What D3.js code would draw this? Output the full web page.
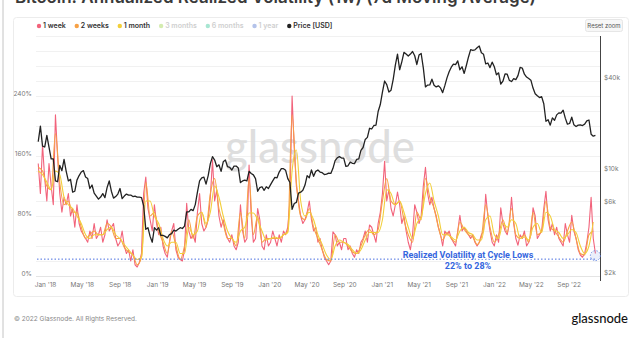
<!DOCTYPE html>
<html><head><meta charset="utf-8">
<script src="https://cdn.jsdelivr.net/npm/d3@7"></script>
<style>
html,body{margin:0;padding:0;background:#fff;}
svg{display:block;font-family:Inter, Roboto, "Noto Sans", sans-serif;}
</style></head><body>
<svg id="chart" width="640" height="338"></svg>
<script>
// ---------- DATA ----------
const weeklyStart = "2017-12-10";   // weekly series start (Sundays)
const biweeklyStart = "2017-12-10"; // 2-week sampled series start

// BTC price [USD], weekly
const price2017 = [15000,19000,14000,13800];
const price2018 = [16500,13800,11500,11500, 8200,8100,10400,9600, 11400,9500,8200,8400, 6900,7000,8300,8900,9400, 9600,8700,8500,7300, 7700,6800,6500,6200, 6400,6750,6350,7400,8200, 7000,6300,6450,6700, 7300,6250,6500,6700,6600, 6600,6450,6500,6400, 6400,6350,5600,3900, 4000,3500,3200,4000,3850];
const price2019 = [4000,3550,3550,3500, 3420,3600,3650,3850, 3800,3900,4000,3950,4100, 5100,5100,5300,5200, 5700,6900,8200,8600, 8700,7800,8900,10700,11900, 11300,10200,10500,9500, 11000,11300,10200,10100, 9700,10300,10300,10000,8000, 8200,8300,8200,9500, 9200,9000,8500,7000, 7400,7500,7100,7500,7300];
const price2020 = [7750,8200,8650,8600, 9400,9900,9900,9650, 8500,8000,5300,5800,5900, 6800,6900,7100,7700, 8900,8600,9700,8800,9500, 9700,9400,9300,9050, 9100,9250,9200,9950, 11200,11700,11900,11650,11650, 10250,10350,10950,10750, 10700,11400,11500,13100, 13700,15500,16000,18400,18200, 19200,19300,23800,26500];
const price2021 = [32000,38000,36000,32100,33000, 39000,48500,57500,45200, 51000,59000,57500,55800, 57500,59800,56000,49000, 56600,58000,46500,34700,35700, 35800,39100,35600,34700, 35300,34200,31800,35400, 39900,43800,47000,49300,48900, 51800,45200,47300,42700, 48200,55000,61500,60900,61300, 63300,65000,58700,57300, 49400,50100,46700,50800];
const price2022 = [47300,41800,43100,36300,37900, 42400,42200,38400,37700, 39400,38800,41300,46800, 46400,42200,40400,39500, 38500,34100,31300,30300,29500, 29900,26800,20500,21000, 19300,21600,20800,22600,23300, 23200,24300,21500,19600, 19800,21800,19400,18900, 19300,19400,19200,19600,20600, 20900,16800,16300,16500];

// Realized volatility 1 week [%], weekly
const vol1w2017 = [150,110,175,130];
const vol1w2018 = [100,150,120,95, 215,160,110,85, 105,95,110,80, 90,65,95,70,60, 55,50,45,60, 50,70,50,55, 65,45,55,75,60, 65,70,50,40, 45,60,40,30,35, 20,35,15,12, 18,30,110,132, 90,75,60,95,70];
const vol1w2019 = [55,65,40,30, 25,45,60,70, 35,25,22,20,35, 97,60,50,55, 45,85,110,70, 60,65,75,105,155, 100,115,80,65, 75,60,50,45, 55,40,35,45,95, 60,45,50,148, 80,45,50,90, 75,40,35,55,40];
const vol1w2020 = [45,60,50,40, 55,45,60,55, 65,100,240,170,120, 100,80,70,75, 85,100,75,60,65, 45,50,35,25, 20,15,20,59, 55,40,45,35,50, 50,35,40,30, 25,35,30,45, 50,60,45,68,65, 55,45,70,85];
const vol1w2021 = [110,153,100,115,90, 80,95,112,95, 70,80,60,45, 35,55,95,85, 70,80,120,145,110, 95,105,90,80, 65,55,40,60, 55,60,50,45,40, 60,81,60,65, 60,55,50,55,45, 40,45,55,60, 109,80,60,45];
const vol1w2022 = [40,55,45,91,70, 60,55,70,105, 70,50,41,55, 50,60,40,45, 55,91,80,50,55, 60,90,113,75, 60,70,55,65,50, 45,40,70,55, 45,81,60,50, 35,28,25,30,45, 65,105,50,30];

// Realized volatility 2 weeks [%], every 2 weeks
const vol2w = [145,140,
 120,115,190,125,95,100,85,85,65,50,55,60,55,55,70,65,50,50,38,32,28,15,25,125,80,85,
 60,45,30,60,40,22,40,75,50,80,85,65,110,130,90,70,50,50,40,85,50,130,55,80,45,50,
 50,50,50,55,60,215,125,80,75,90,65,50,35,22,20,55,45,45,40,32,30,40,55,62,55,62,
 100,130,100,95,100,75,55,45,85,75,130,105,90,65,48,58,50,45,72,62,55,52,42,52,95,65,
 45,55,75,58,90,55,50,55,45,85,55,60,100,65,60,52,45,60,72,50,30,28,55,60];

// Realized volatility 1 month [%], every 2 weeks
const vol1m = [140,135,
 125,115,140,135,105,95,90,80,70,55,50,55,55,55,62,65,55,50,42,35,28,22,25,100,100,80,
 70,50,40,45,45,30,30,65,55,60,85,70,85,120,105,80,60,50,45,60,65,84,84,75,60,48,
 50,52,50,55,58,140,168,100,80,85,75,55,42,28,22,40,48,45,42,35,30,35,48,58,58,58,
 75,115,110,95,100,85,65,50,70,78,110,124,100,80,55,55,52,48,60,65,58,55,48,48,75,80,
 55,50,70,65,75,70,50,52,48,65,70,58,85,80,62,58,50,55,62,58,40,30,40,72];

const cycleLowLevel = 22.5;
const legendLabels = ["1 week","2 weeks","1 month","3 months","6 months","1 year","Price [USD]"];
const legendColors = ["#f2637b","#f7a145","#f2cf3a","#d4ecb0","#a8e6d2","#b4c3ea","#222222"];
const legendActive = [true,true,true,false,false,false,true];
const leftTicks = [0,80,160,240];
const rightTicks = [2000,6000,10000,40000];
const rightTickLabels = ["$2k","$6k","$10k","$40k"];
const xTickStart = "2018-01-01", xTickEnd = "2022-10-01";

// ---------- BUILD ----------
const priceUSD = [].concat(price2017,price2018,price2019,price2020,price2021,price2022);
const vol1w = [].concat(vol1w2017,vol1w2018,vol1w2019,vol1w2020,vol1w2021,vol1w2022);
const wStart = new Date(weeklyStart+"T00:00:00Z");
const bStart = new Date(biweeklyStart+"T00:00:00Z");
const wk = (arr)=>arr.map((v,i)=>({d:d3.utcDay.offset(wStart,7*i),v}));
const bw = (arr)=>arr.map((v,i)=>({d:d3.utcDay.offset(bStart,14*i),v}));

const svg = d3.select("#chart");

// page elements
svg.append("line").attr("x1",3).attr("x2",3).attr("y1",0).attr("y2",338).attr("stroke","#c4c4c4").attr("stroke-width",1);
svg.append("text").attr("x",15).attr("y",3).attr("font-size",17).attr("font-weight",600).attr("fill","#3a3a3a")
  .text("Bitcoin: Annualized Realized Volatility (1w) (7d Moving Average)");
svg.append("rect").attr("x",13.5).attr("y",17.5).attr("width",615).attr("height",279).attr("rx",3)
  .attr("fill","#fff").attr("stroke","#ececec");

const x = d3.scaleUtc().domain([new Date(Date.UTC(2018,0,1)), new Date(Date.UTC(2022,0,1))]).range([45,494]);
const yL = d3.scaleLinear().domain([0,320]).range([276,36]);
const yR = d3.scaleLog().domain([10000,40000]).range([168, 168-150*Math.log10(4)]);

// gridlines
svg.append("g").selectAll("line").data(d3.range(0,321,20)).join("line")
  .attr("x1",36).attr("x2",600).attr("y1",d=>yL(d)+0.5).attr("y2",d=>yL(d)+0.5)
  .attr("stroke","#f1f1f1").attr("stroke-width",1);

// watermark
svg.append("text").attr("x",320).attr("y",163).attr("text-anchor","middle")
  .attr("font-size",46).attr("font-weight",500).attr("fill","#d9d9d9").attr("fill-opacity",0.85)
  .attr("textLength",190).attr("lengthAdjust","spacingAndGlyphs").attr("font-family","Lato, Inter, sans-serif")
  .text("glassnode");

// left axis
const gl = svg.append("g").attr("transform","translate(32,-3)")
  .call(d3.axisLeft(yL).tickValues(leftTicks).tickSize(0).tickPadding(0).tickFormat(d=>d+"%"));
gl.select(".domain").remove();
gl.selectAll("text").attr("font-size",6.5).attr("fill","#777").attr("font-family","Inter, Roboto, sans-serif");

// right axis
svg.append("line").attr("x1",600.5).attr("x2",600.5).attr("y1",36).attr("y2",281).attr("stroke","#444").attr("stroke-width",1);
const gr = svg.append("g").attr("transform","translate(604,0)")
  .call(d3.axisRight(yR).tickValues(rightTicks).tickSize(0).tickPadding(0).tickFormat((d,i)=>rightTickLabels[i]));
gr.select(".domain").remove();
gr.selectAll("text").attr("font-size",6.5).attr("fill","#777").attr("font-family","Inter, Roboto, sans-serif");

// x axis
svg.append("line").attr("x1",36).attr("x2",600).attr("y1",276.5).attr("y2",276.5).attr("stroke","#e4e4e4");
const xTicks = d3.utcMonth.every(4).range(new Date(xTickStart+"T00:00:00Z"), d3.utcDay.offset(new Date(xTickEnd+"T00:00:00Z"),1));
const gx = svg.append("g").attr("transform","translate(0,282)")
  .call(d3.axisBottom(x).tickValues(xTicks).tickSize(0).tickPadding(0).tickFormat(d3.utcFormat("%b '%y")));
gx.select(".domain").remove();
gx.selectAll("text").attr("font-size",6.5).attr("fill","#777").attr("dy","0.71em").attr("font-family","Inter, Roboto, sans-serif");

// clip
svg.append("clipPath").attr("id","plot").append("rect").attr("x",36).attr("y",30).attr("width",563).attr("height",250);
const plot = svg.append("g").attr("clip-path","url(#plot)");

const lineL = d3.line().x(d=>x(d.d)).y(d=>yL(d.v));
const lineLs = d3.line().x(d=>x(d.d)).y(d=>yL(d.v)).curve(d3.curveMonotoneX);
plot.append("path").datum(wk(vol1w)).attr("d",lineL).attr("fill","none").attr("stroke",legendColors[0]).attr("stroke-width",1.1).attr("stroke-linejoin","round");
plot.append("path").datum(bw(vol2w)).attr("d",lineLs).attr("fill","none").attr("stroke",legendColors[1]).attr("stroke-width",1.1).attr("stroke-linejoin","round");
plot.append("path").datum(bw(vol1m)).attr("d",lineLs).attr("fill","none").attr("stroke",legendColors[2]).attr("stroke-width",1.1).attr("stroke-linejoin","round");

// cycle low dotted line
plot.append("line").attr("x1",37).attr("x2",597).attr("y1",yL(cycleLowLevel)).attr("y2",yL(cycleLowLevel))
  .attr("stroke","#4a6fe0").attr("stroke-width",1).attr("stroke-dasharray","1.5,2");

// price
const lineP = d3.line().x(d=>x(d.d)).y(d=>yR(d.v));
plot.append("path").datum(wk(priceUSD)).attr("d",lineP).attr("fill","none").attr("stroke","#222").attr("stroke-width",1.3).attr("stroke-linejoin","round");

// annotation
const lastLow = wk(vol1w)[vol1w.length-1];
svg.append("circle").attr("cx",x(lastLow.d)).attr("cy",yL(cycleLowLevel)-3.5).attr("r",5)
  .attr("fill","rgba(120,150,230,0.15)").attr("stroke","#5b7fe0").attr("stroke-width",0.8).attr("stroke-dasharray","1.5,1.5");
const ann = svg.append("text").attr("text-anchor","middle").attr("font-size",9).attr("font-weight",700)
  .attr("fill","#3566de").attr("font-family","Roboto, Inter, sans-serif")
  .attr("stroke","#fff").attr("stroke-width",2).attr("paint-order","stroke");
ann.append("tspan").attr("x",468).attr("y",258).text("Realized Volatility at Cycle Lows");
ann.append("tspan").attr("x",468).attr("y",268.5).text("22% to 28%");

// legend
const lg = svg.append("g");
let lx = 39;
legendLabels.forEach((lab,i)=>{
  lg.append("circle").attr("cx",lx).attr("cy",26).attr("r",2.2).attr("fill",legendColors[i]);
  const t = lg.append("text").attr("x",lx+4).attr("y",28.4).attr("font-size",7).attr("font-weight",600)
    .attr("fill",legendActive[i]?"#333":"#cfcfcf").text(lab);
  lx += 4 + t.node().getComputedTextLength() + 11;
});

// reset zoom button
svg.append("rect").attr("x",585.5).attr("y",19.5).attr("width",37).attr("height",12).attr("rx",2).attr("fill","#f7f7f7").attr("stroke","#e6e6e6");
svg.append("text").attr("x",604).attr("y",27.8).attr("text-anchor","middle").attr("font-size",6).attr("fill","#555").text("Reset zoom");

// footer
svg.append("text").attr("x",14).attr("y",321).attr("font-size",6.5).attr("fill","#888").text("© 2022 Glassnode. All Rights Reserved.");
svg.append("text").attr("x",628).attr("y",323).attr("text-anchor","end").attr("font-size",13).attr("font-weight",500)
  .attr("fill","#111").attr("font-family","Lato, Inter, sans-serif").text("glassnode");
</script>
</body></html>
